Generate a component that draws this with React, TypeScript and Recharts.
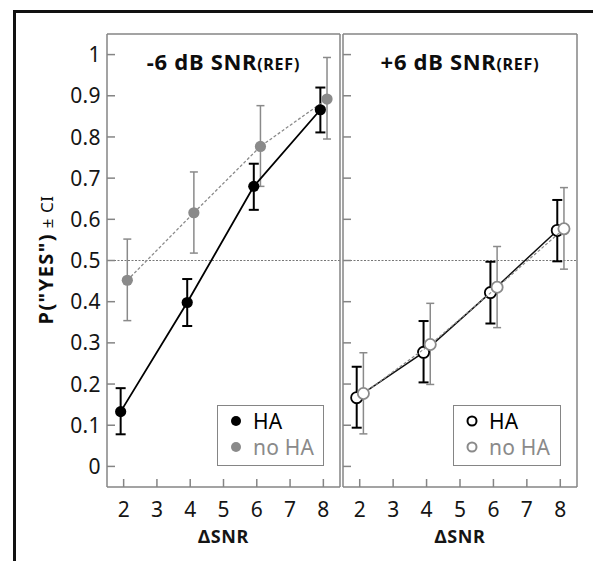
import React from 'react';
import { ScatterChart, Scatter, XAxis, YAxis, ErrorBar, ReferenceLine, Legend } from 'recharts';

// ΔSNR conditions
const snr = [2, 4, 6, 8];
const xTicks = [2, 3, 4, 5, 6, 7, 8];
const yTicks = [0, 0.1, 0.2, 0.3, 0.4, 0.5, 0.6, 0.7, 0.8, 0.9, 1];

// -6 dB SNR(REF)
const leftHA = [0.133, 0.398, 0.68, 0.866];
const leftHALo = [0.078, 0.341, 0.623, 0.811];
const leftHAHi = [0.19, 0.455, 0.735, 0.92];
const leftNoHA = [0.452, 0.616, 0.777, 0.892];
const leftNoHALo = [0.354, 0.518, 0.68, 0.795];
const leftNoHAHi = [0.552, 0.715, 0.876, 0.993];

// +6 dB SNR(REF)
const rightHA = [0.167, 0.277, 0.422, 0.573];
const rightHALo = [0.094, 0.204, 0.347, 0.498];
const rightHAHi = [0.242, 0.353, 0.497, 0.647];
const rightNoHA = [0.177, 0.296, 0.435, 0.577];
const rightNoHALo = [0.079, 0.199, 0.337, 0.479];
const rightNoHAHi = [0.276, 0.396, 0.534, 0.677];

const FONT = '"Noto Sans", "Open Sans", sans-serif';
const AXIS = '#858585';
const GREY = '#8a8a8a';
const INK = '#151515';
const dodgeHA = -0.09;
const dodgeNoHA = 0.11;

const toPoints = (ys: number[], lo: number[], hi: number[], dodge: number) =>
  snr.map((s, i) => ({ x: s + dodge, y: ys[i], err: [ys[i] - lo[i], hi[i] - ys[i]] }));

const fmtY = (v: number) => (v === 0 || v === 1 ? String(v) : v.toFixed(1));

const leftTick = (showLabel: boolean) => (p: any) => (
  <g>
    <line x1={p.x} x2={p.x + 8} y1={p.y} y2={p.y} stroke={AXIS} strokeWidth={1.5} />
    {showLabel && (
      <text x={p.x - 6} y={p.y} dy="0.36em" textAnchor="end" fontSize={21} letterSpacing={0.4}
        fill={INK} fontFamily={FONT}>
        {fmtY(p.payload.value)}
      </text>
    )}
  </g>
);
const rightTick = (p: any) => (
  <line x1={p.x} x2={p.x - 8} y1={p.y} y2={p.y} stroke={AXIS} strokeWidth={1.5} />
);
const bottomTick = (p: any) => (
  <g>
    <line x1={p.x} x2={p.x} y1={p.y} y2={p.y - 8} stroke={AXIS} strokeWidth={1.5} />
    <text x={p.x} y={p.y + 30} textAnchor="middle" fontSize={21} fill={INK} fontFamily={FONT}>
      {p.payload.value}
    </text>
  </g>
);
const topTick = (p: any) => (
  <line x1={p.x} x2={p.x} y1={p.y} y2={p.y + 8} stroke={AXIS} strokeWidth={1.5} />
);

const dot = (fill: string, stroke: string, sw: number) => (p: any) => (
  <circle cx={p.cx} cy={p.cy} r={5.6} fill={fill} stroke={stroke} strokeWidth={sw} />
);

function Panel({ title, left, width, plotLeft, plotRight, showY, series, legend }: any) {
  // axes are 1px thick, margins leave the plot box at plotLeft..plotRight, 34..487
  const margin = { top: 33, bottom: 73, left: plotLeft - 1, right: width - plotRight - 1 };
  const plotW = plotRight - plotLeft;
  return (
    <div style={{ position: 'absolute', left, top: 0 }}>
      <ScatterChart width={width} height={561} margin={margin}>
        <XAxis
          xAxisId={0}
          dataKey="x"
          type="number"
          domain={[1.5, 8.5]}
          ticks={xTicks}
          height={1}
          tickSize={0}
          tickMargin={0}
          tickLine={false}
          tick={bottomTick}
          axisLine={{ stroke: AXIS, strokeWidth: 1.5 }}
          label={{
            content: () => (
              <text x={plotLeft + plotW / 2} y={543} textAnchor="middle" letterSpacing={0.6}
                fontSize={18} fontWeight={700} fill={INK} fontFamily={FONT}>ΔSNR</text>
            ),
          }}
        />
        <XAxis
          xAxisId="top"
          orientation="top"
          type="number"
          domain={[1.5, 8.5]}
          ticks={xTicks}
          height={1}
          tickSize={0}
          tickMargin={0}
          tickLine={false}
          tick={topTick}
          axisLine={{ stroke: AXIS, strokeWidth: 1.5 }}
          label={{
            content: () => (
              <text x={plotLeft + plotW / 2} y={70} textAnchor="middle" fill="#0d0d0d" fontFamily={FONT}
                fontWeight={700} letterSpacing={0.7}>
                <tspan fontSize={22}>{title}</tspan>
                <tspan fontSize={16}>(REF)</tspan>
              </text>
            ),
          }}
        />
        <YAxis
          yAxisId={0}
          dataKey="y"
          type="number"
          domain={[-0.05, 1.05]}
          ticks={yTicks}
          width={1}
          tickSize={0}
          tickMargin={0}
          tickLine={false}
          tick={leftTick(showY)}
          axisLine={{ stroke: AXIS, strokeWidth: 1.5 }}
          label={
            showY
              ? {
                  content: () => (
                    <text x={47} y={260} transform="rotate(-90 47 260)" textAnchor="middle" dy="0.35em"
                      fill="#0d0d0d" fontFamily={FONT}>
                      <tspan fontSize={20} fontWeight={700} letterSpacing={1.4}>P("YES")</tspan>
                      <tspan fontSize={17} letterSpacing={0.5}> ± CI</tspan>
                    </text>
                  ),
                }
              : undefined
          }
        />
        <YAxis
          yAxisId="right"
          orientation="right"
          type="number"
          domain={[-0.05, 1.05]}
          ticks={yTicks}
          width={1}
          tickSize={0}
          tickMargin={0}
          tickLine={false}
          tick={rightTick}
          axisLine={{ stroke: AXIS, strokeWidth: 1.5 }}
        />
        <ReferenceLine yAxisId={0} xAxisId={0} y={0.5} stroke="#777" strokeDasharray="2 1.5" strokeWidth={1} />
        {series.map((s: any) => (
          <Scatter
            key={s.name}
            name={s.name}
            data={s.data}
            isAnimationActive={false}
            line={{ stroke: s.line, strokeWidth: s.lineWidth, strokeDasharray: s.dash }}
            shape={dot(s.fill, s.stroke, s.strokeWidth)}
          >
            <ErrorBar dataKey="err" direction="y" width={s.cap} stroke={s.err} strokeWidth={s.errWidth} isAnimationActive={false} />
          </Scatter>
        ))}
        <Legend
          layout="vertical"
          verticalAlign="middle"
          align="center"
          wrapperStyle={{ left: legend.left, top: 405, width: legend.width, height: 61 }}
          content={() => (
            <div style={{ boxSizing: 'border-box', width: legend.width, height: 61, border: `1.5px solid ${AXIS}`,
              background: '#fff', fontFamily: FONT, fontSize: 21, letterSpacing: 0.2, padding: '2px 0 0 11px',
              lineHeight: '26px' }}>
              {legend.items.map((it: any) => (
                <div key={it.label} style={{ display: 'flex', alignItems: 'center', color: it.color }}>
                  <svg width={16} height={16} style={{ marginRight: 8 }}>
                    <circle cx={7} cy={8} r={it.open ? 4.5 : 5} fill={it.open ? '#fff' : it.color}
                      stroke={it.color} strokeWidth={it.open ? 2 : 0} />
                  </svg>
                  {it.label}
                </div>
              ))}
            </div>
          )}
        />
      </ScatterChart>
    </div>
  );
}

export default function App() {
  const leftSeries = [
    { name: 'no HA', data: toPoints(leftNoHA, leftNoHALo, leftNoHAHi, dodgeNoHA), line: GREY, lineWidth: 1.3,
      dash: '3 2', fill: GREY, stroke: GREY, strokeWidth: 0, err: GREY, errWidth: 1.5, cap: 4 },
    { name: 'HA', data: toPoints(leftHA, leftHALo, leftHAHi, dodgeHA), line: '#000', lineWidth: 1.8,
      dash: undefined, fill: '#000', stroke: '#000', strokeWidth: 0, err: '#000', errWidth: 2, cap: 5 },
  ];
  const rightSeries = [
    { name: 'HA', data: toPoints(rightHA, rightHALo, rightHAHi, dodgeHA), line: '#111', lineWidth: 1.5,
      dash: undefined, fill: '#fff', stroke: '#000', strokeWidth: 1.8, err: '#000', errWidth: 2, cap: 5 },
    { name: 'no HA', data: toPoints(rightNoHA, rightNoHALo, rightNoHAHi, dodgeNoHA), line: GREY, lineWidth: 1.2,
      dash: '3 2', fill: '#fff', stroke: GREY, strokeWidth: 1.8, err: GREY, errWidth: 1.5, cap: 4 },
  ];
  return (
    <div style={{ position: 'absolute', left: 0, top: 0, width: 593, height: 561, overflow: 'hidden', background: '#fff' }}>
      <div style={{ position: 'absolute', left: 13, top: 10, width: 700, height: 700,
        borderTop: '3px solid #111', borderLeft: '3px solid #111' }} />
      <Panel
        title="-6 dB SNR"
        left={0}
        width={345}
        plotLeft={107}
        plotRight={340}
        showY
        series={leftSeries}
        legend={{ left: 217, width: 107, items: [
          { label: 'HA', color: '#000', open: false },
          { label: 'no HA', color: GREY, open: false },
        ] }}
      />
      <Panel
        title="+6 dB SNR"
        left={340}
        width={253}
        plotLeft={3}
        plotRight={237}
        showY={false}
        series={rightSeries}
        legend={{ left: 113, width: 108, items: [
          { label: 'HA', color: '#000', open: true },
          { label: 'no HA', color: GREY, open: true },
        ] }}
      />
    </div>
  );
}
